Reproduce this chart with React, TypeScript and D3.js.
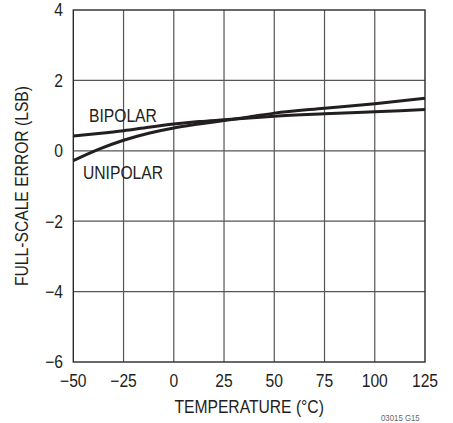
import React from "react";
import * as d3 from "d3";

const temps = [-50, -37.5, -25, -12.5, 0, 12.5, 25, 37.5, 50, 75, 100, 125];
const unipolar = [-0.28, 0.04, 0.3, 0.5, 0.65, 0.76, 0.86, 0.96, 1.07, 1.21, 1.34, 1.49];
const bipolar = [0.42, 0.49, 0.57, 0.67, 0.76, 0.83, 0.88, 0.93, 0.98, 1.05, 1.11, 1.17];
const xTicks = [-50, -25, 0, 25, 50, 75, 100, 125];
const yTicks = [-6, -4, -2, 0, 2, 4];

const W = 453;
const H = 423;
const FONT = "'Liberation Sans', Arial, sans-serif";
const SX = 0.87;

function T(props: {
  x: number;
  y: number;
  anchor?: "start" | "middle" | "end";
  rotate?: number;
  size?: number;
  fill?: string;
  dy?: string;
  children: React.ReactNode;
}) {
  const { x, y, anchor = "start", rotate = 0, size = 18, fill = "#231f20", dy, children } = props;
  return (
    <g transform={`translate(${x},${y}) rotate(${rotate}) scale(${SX},1)`}>
      <text x={0} y={0} dy={dy} textAnchor={anchor} fontFamily={FONT} fontSize={size} fill={fill}>
        {children}
      </text>
    </g>
  );
}

export default function App() {
  const x = d3.scaleLinear().domain([-50, 125]).range([73.3, 425]);
  const y = d3.scaleLinear().domain([-6, 4]).range([362, 10]);
  const line = d3
    .line<number>()
    .x((_, i) => x(temps[i]))
    .y((d) => y(d))
    .curve(d3.curveMonotoneX);
  const fmt = (v: number) => (v < 0 ? "\u2212" + Math.abs(v) : String(v));
  const [x0, x1] = x.range();
  const [y0, y1] = y.range();
  return (
    <svg width={W} height={H} style={{ position: "absolute", left: 0, top: 0, background: "#fff" }}>
      <g>
        {xTicks.slice(1, -1).map((t) => (
          <line key={"gx" + t} x1={x(t)} x2={x(t)} y1={y1} y2={y0} stroke="#555" strokeWidth={1.2} />
        ))}
        {yTicks.slice(1, -1).map((t) => (
          <line key={"gy" + t} x1={x0} x2={x1} y1={y(t)} y2={y(t)} stroke="#555" strokeWidth={1.2} />
        ))}
        <rect x={x0} y={y1} width={x1 - x0} height={y0 - y1} fill="none" stroke="#2a2a2a" strokeWidth={1.4} />
      </g>
      <path d={line(bipolar) || ""} fill="none" stroke="#231f20" strokeWidth={3} />
      <path d={line(unipolar) || ""} fill="none" stroke="#231f20" strokeWidth={3} />
      {xTicks.map((t) => (
        <T key={"tx" + t} x={x(t)} y={387} anchor="middle">
          {fmt(t)}
        </T>
      ))}
      {yTicks.map((t) => (
        <T key={"ty" + t} x={63} y={y(t)} dy="0.36em" anchor="end">
          {fmt(t)}
        </T>
      ))}
      <T x={(x0 + x1) / 2} y={413} anchor="middle">
        TEMPERATURE (°C)
      </T>
      <T x={28} y={(y0 + y1) / 2} rotate={-90} anchor="middle">
        FULL-SCALE ERROR (LSB)
      </T>
      <T x={89} y={122}>BIPOLAR</T>
      <T x={83} y={179}>UNIPOLAR</T>
      <T x={381} y={421} size={9} fill="#666">
        03015 G15
      </T>
    </svg>
  );
}
